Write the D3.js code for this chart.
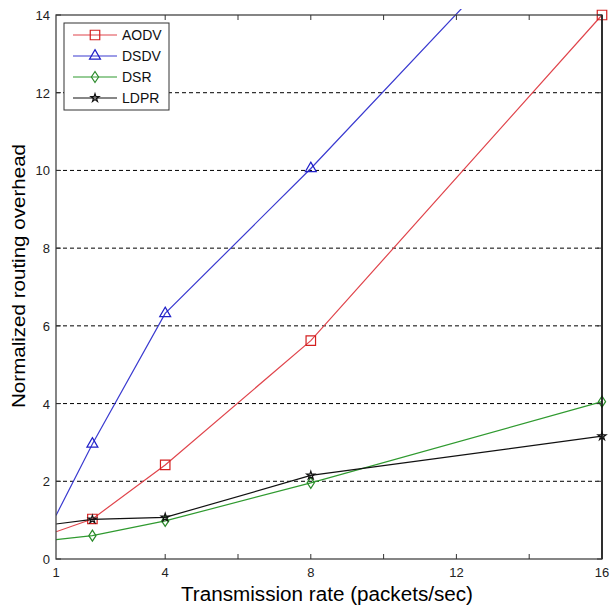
<!DOCTYPE html>
<html>
<head>
<meta charset="utf-8">
<script src="https://cdn.jsdelivr.net/npm/d3@7"></script>
<style>
  html, body { margin: 0; padding: 0; background: #fff; }
  svg { display: block; }
  text { font-family: "Liberation Sans", Arial, sans-serif; }
</style>
</head>
<body>
<svg id="chart" width="613" height="609"></svg>
<script>
// Transmission rates (packets/sec) at which each protocol was measured
const rates = [1, 2, 4, 8, 16];
// Normalized routing overhead per protocol
const aodv = [0.70, 1.03, 2.42, 5.62, 14.0];
const dsdv = [1.12, 2.96, 6.32, 10.05, 18.0];
const dsr  = [0.50, 0.60, 0.98, 1.96, 4.05];
const ldpr = [0.90, 1.02, 1.07, 2.15, 3.16];

const seriesNames = ["AODV", "DSDV", "DSR", "LDPR"];
const seriesValues = [aodv, dsdv, dsr, ldpr];

const xTickValues = [4, 6, 8, 10, 12, 14, 16];
const xTickLabels = [1, 4, 8, 12, 16];
const yTickValues = [0, 2, 4, 6, 8, 10, 12, 14];
const gridValues = [2, 4, 6, 8, 10, 12];

const styles = {
  AODV: { line: "#e0454c", mark: "#d42020", shape: "square" },
  DSDV: { line: "#3a3ad0", mark: "#2020c8", shape: "triangle" },
  DSR:  { line: "#2f9a2f", mark: "#2a8a2a", shape: "diamond" },
  LDPR: { line: "#111111", mark: "#111111", shape: "star" }
};

const svg = d3.select("#chart");
const L = 56, R = 602, T = 15, B = 559;

const x = d3.scaleLinear().domain([1, 16]).range([L, R]);
const y = d3.scaleLinear().domain([0, 14]).range([B, T]);

// horizontal dashed grid
svg.append("g").selectAll("line").data(gridValues).join("line")
  .attr("x1", L).attr("x2", R)
  .attr("y1", d => y(d)).attr("y2", d => y(d))
  .attr("stroke", "#000").attr("stroke-width", 1)
  .attr("stroke-dasharray", "4,3");

svg.append("clipPath").attr("id", "plotClip")
  .append("rect").attr("x", L).attr("y", T - 6).attr("width", R - L + 8).attr("height", B - T + 6);

const plot = svg.append("g").attr("clip-path", "url(#plotClip)");

function symbolPath(shape) {
  if (shape === "square") return d3.symbol(d3.symbolSquare, 90)();
  if (shape === "triangle") return d3.symbol(d3.symbolTriangle, 52)();
  if (shape === "star") return d3.symbol(d3.symbolStar, 20)();
  // diamond: narrow, tall
  return "M0,-5.5L3.6,0L0,5.5L-3.6,0Z";
}

const lineGen = d3.line().x(d => x(d[0])).y(d => y(d[1]));

seriesNames.forEach((name, si) => {
  const st = styles[name];
  const pts = rates.map((r, i) => [r, seriesValues[si][i]]);
  plot.append("path")
    .datum(pts)
    .attr("d", lineGen)
    .attr("fill", "none")
    .attr("stroke", st.line)
    .attr("stroke-width", 1.2);
  // markers at the measured rates beyond the starting point
  plot.append("g").selectAll("path").data(pts.slice(1)).join("path")
    .attr("d", symbolPath(st.shape))
    .attr("transform", d => `translate(${x(d[0])},${y(d[1])})`)
    .attr("fill", "none")
    .attr("stroke", st.mark)
    .attr("stroke-width", 1.2);
});

// frame
svg.append("rect").attr("x", L).attr("y", T).attr("width", R - L).attr("height", B - T)
  .attr("fill", "none").attr("stroke", "#444").attr("stroke-width", 1.3);
svg.append("line").attr("x1", R).attr("x2", R).attr("y1", T).attr("y2", B)
  .attr("stroke", "#000").attr("stroke-width", 1.3);

// inward ticks on bottom and top
const tk = 5;
const xt = svg.append("g");
xTickValues.forEach(v => {
  xt.append("line").attr("x1", x(v)).attr("x2", x(v)).attr("y1", B).attr("y2", B - tk).attr("stroke", "#333");
  xt.append("line").attr("x1", x(v)).attr("x2", x(v)).attr("y1", T).attr("y2", T + tk).attr("stroke", "#333");
});
const yt = svg.append("g");
yTickValues.forEach(v => {
  yt.append("line").attr("x1", L).attr("x2", L + tk).attr("y1", y(v)).attr("y2", y(v)).attr("stroke", "#333");
  yt.append("line").attr("x1", R).attr("x2", R - tk).attr("y1", y(v)).attr("y2", y(v)).attr("stroke", "#333");
});

// tick labels
svg.append("g").selectAll("text").data(xTickLabels).join("text")
  .attr("x", d => x(d)).attr("y", B + 18)
  .attr("text-anchor", "middle").attr("font-size", 13).attr("fill", "#222")
  .text(d => d);
svg.append("g").selectAll("text").data(yTickValues).join("text")
  .attr("x", L - 6).attr("y", d => y(d) + 5)
  .attr("text-anchor", "end").attr("font-size", 13).attr("fill", "#222")
  .text(d => d);

// axis titles
svg.append("text").attr("x", 327).attr("y", 601)
  .attr("text-anchor", "middle").attr("font-size", 20).attr("fill", "#000")
  .attr("textLength", 292).attr("lengthAdjust", "spacingAndGlyphs")
  .text("Transmission rate (packets/sec)");
svg.append("text")
  .attr("transform", "translate(25,276) rotate(-90)")
  .attr("text-anchor", "middle").attr("font-size", 18.5).attr("fill", "#000")
  .attr("textLength", 264).attr("lengthAdjust", "spacingAndGlyphs")
  .text("Normalized routing overhead");

// legend
const lg = svg.append("g");
lg.append("rect").attr("x", 64).attr("y", 23).attr("width", 105).attr("height", 87)
  .attr("fill", "#fff").attr("stroke", "#333").attr("stroke-width", 1);
seriesNames.forEach((name, i) => {
  const st = styles[name];
  const cy = 35 + i * 21;
  lg.append("line").attr("x1", 73).attr("x2", 117).attr("y1", cy).attr("y2", cy)
    .attr("stroke", st.line).attr("stroke-width", 1.2);
  lg.append("path").attr("d", symbolPath(st.shape))
    .attr("transform", `translate(95,${cy})`)
    .attr("fill", "none").attr("stroke", st.mark).attr("stroke-width", 1.2);
  lg.append("text").attr("x", 122).attr("y", cy + 5)
    .attr("font-size", 14).attr("fill", "#111").text(name);
});
</script>
</body>
</html>
